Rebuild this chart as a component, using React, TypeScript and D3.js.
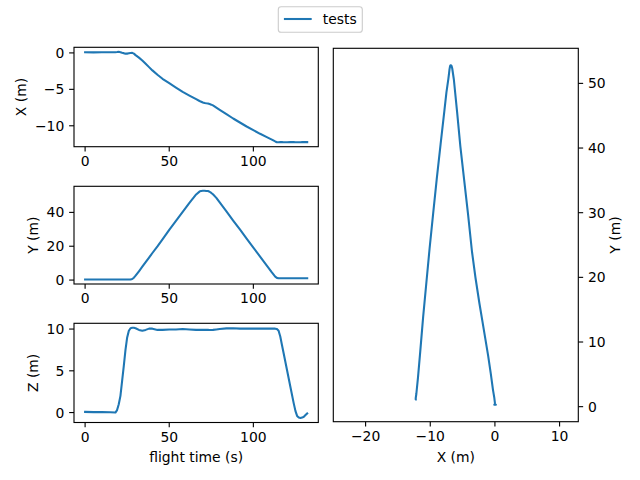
import React from "react";
import * as d3 from "d3";

const T = [0, 5, 10, 15, 18, 19, 20, 21, 22, 23, 24, 25, 26, 27, 28, 29, 30, 32, 34, 36, 38, 40, 43, 46, 50, 54, 58, 62, 66, 68, 69, 70, 71, 72, 73, 74, 75, 76, 78, 80, 84, 88, 92, 96, 100, 104, 108, 111, 113, 114, 115, 116, 117, 118, 120, 122, 124, 125, 126, 127, 128, 129, 130, 131, 132];

const XS = [0.08, 0.07, 0.08, 0.09, 0.1,
  0.12, 0.15, 0.1, 0.03, -0.03,
  -0.1, -0.1, -0.06, -0.02, 0.0,
  -0.1, -0.3, -0.65, -1.05, -1.5,
  -1.95, -2.4, -3.0, -3.55, -4.15,
  -4.75, -5.35, -5.85, -6.35, -6.6,
  -6.7, -6.8, -6.88, -6.92, -6.95,
  -7.02, -7.1, -7.2, -7.5, -7.8,
  -8.4, -9.0, -9.55, -10.1, -10.6,
  -11.1, -11.55, -11.9, -12.15, -12.25,
  -12.25, -12.24, -12.24, -12.25, -12.25,
  -12.24, -12.24, -12.25, -12.25, -12.25,
  -12.25, -12.24, -12.24, -12.24, -12.24];

const YS = [0.3, 0.3, 0.3, 0.3, 0.3,
  0.3, 0.3, 0.3, 0.3, 0.3,
  0.3, 0.3, 0.3, 0.3, 0.6,
  1.4, 2.6, 5.2, 7.9, 10.6,
  13.3, 16.0, 19.9, 24.0, 29.7,
  35.0, 40.3, 45.6, 50.6, 52.3,
  52.7, 52.8, 52.8, 52.7, 52.6,
  52.2, 51.5, 50.7, 48.6, 45.9,
  40.6, 35.2, 29.9, 24.5, 19.2,
  13.9, 8.5, 4.5, 2.0, 1.3,
  1.1, 1.1, 1.1, 1.1, 1.1,
  1.1, 1.1, 1.1, 1.1, 1.1,
  1.1, 1.1, 1.1, 1.1, 1.1];

const ZS = [0.08, 0.05, 0.06, 0.03, 0.0,
  0.3, 1.0, 2.0, 3.8, 5.6,
  7.5, 9.0, 9.8, 10.1, 10.15,
  10.15, 10.1, 9.9, 9.8, 9.9,
  10.05, 10.05, 9.9, 9.9, 9.95,
  9.95, 10.0, 9.95, 9.9, 9.9,
  9.9, 9.9, 9.9, 9.9, 9.9,
  9.88, 9.88, 9.9, 9.95, 10.0,
  10.08, 10.1, 10.05, 10.05, 10.05,
  10.05, 10.05, 10.05, 10.05, 10.0,
  9.8, 9.1, 8.1, 7.1, 5.1,
  3.1, 1.1, 0.2, -0.4, -0.6,
  -0.65, -0.6, -0.5, -0.3, -0.1];

const TIME_TICKS = [0, 50, 100];
const X_TICKS = [-10, -5, 0];
const Y_TICKS = [0, 20, 40];
const Z_TICKS = [0, 5, 10];
const MAP_X_TICKS = [-20, -10, 0, 10];
const MAP_Y_TICKS = [0, 10, 20, 30, 40, 50];

const SERIES_NAME = "tests";
const COLOR = "#1f77b4";
const FONT = "'DejaVu Sans', sans-serif";
const FS = 13.9;
const TICK = 4.86;

const fmt = (v: number) => (v < 0 ? "\u2212" + Math.abs(v) : String(v));

function padded(vals: number[]): [number, number] {
  const [a, b] = d3.extent(vals) as [number, number];
  const p = (b - a) * 0.05;
  return [a - p, b + p];
}

const LEFT = { x0: 74, x1: 318.3 };
const PANELS = [
  { y0: 47.3, y1: 146.7, vals: XS, ticks: X_TICKS, label: "X (m)", lx: 26 },
  { y0: 186.3, y1: 284, vals: YS, ticks: Y_TICKS, label: "Y (m)", lx: 37.7 },
  { y0: 323.3, y1: 422.5, vals: ZS, ticks: Z_TICKS, label: "Z (m)", lx: 37.7 },
];
const RIGHT = { x0: 333.3, x1: 578.3, y0: 48.3, y1: 421.7 };

export default function App() {
  const tx = d3.scaleLinear().domain(padded(T)).range([LEFT.x0, LEFT.x1]);

  const panels = PANELS.map((p, i) => {
    const ys = d3.scaleLinear().domain(padded(p.vals)).range([p.y1, p.y0]);
    const line = d3
      .line<number>()
      .x((_, j) => tx(T[j]))
      .y((v) => ys(v));
    const isBottom = i === PANELS.length - 1;
    return (
      <g key={i}>
        <defs>
          <clipPath id={"clip" + i}>
            <rect x={LEFT.x0} y={p.y0} width={LEFT.x1 - LEFT.x0} height={p.y1 - p.y0} />
          </clipPath>
        </defs>
        <path d={line(p.vals) || ""} fill="none" stroke={COLOR} strokeWidth={2.08} strokeLinejoin="round" strokeLinecap="square" clipPath={`url(#clip${i})`} />
        <rect x={LEFT.x0} y={p.y0} width={LEFT.x1 - LEFT.x0} height={p.y1 - p.y0} fill="none" stroke="#000" strokeWidth={1.11} />
        {TIME_TICKS.map((t) => (
          <g key={"t" + t}>
            <line x1={tx(t)} x2={tx(t)} y1={p.y1} y2={p.y1 + TICK} stroke="#000" strokeWidth={1.11} />
            <text x={tx(t)} y={p.y1 + 19.3} textAnchor="middle" fontSize={FS} fontFamily={FONT}>
              {fmt(t)}
            </text>
          </g>
        ))}
        {p.ticks.map((v) => (
          <g key={"y" + v}>
            <line x1={LEFT.x0 - TICK} x2={LEFT.x0} y1={ys(v)} y2={ys(v)} stroke="#000" strokeWidth={1.11} />
            <text x={LEFT.x0 - 9.72} y={ys(v)} dy="0.36em" textAnchor="end" fontSize={FS} fontFamily={FONT}>
              {fmt(v)}
            </text>
          </g>
        ))}
        <text
          transform={`translate(${p.lx},${(p.y0 + p.y1) / 2}) rotate(-90)`}
          textAnchor="middle"
          fontSize={FS}
          fontFamily={FONT}
        >
          {p.label}
        </text>
        {isBottom && (
          <text x={(LEFT.x0 + LEFT.x1) / 2} y={p.y1 + 39.5} textAnchor="middle" fontSize={FS} fontFamily={FONT}>
            flight time (s)
          </text>
        )}
      </g>
    );
  });

  // right panel: equal aspect
  const yDom = padded(YS);
  const k = (RIGHT.y1 - RIGHT.y0) / (yDom[1] - yDom[0]);
  const [xa, xb] = d3.extent(XS) as [number, number];
  const xc = (xa + xb) / 2;
  const half = (RIGHT.x1 - RIGHT.x0) / (2 * k);
  const mx = d3.scaleLinear().domain([xc - half, xc + half]).range([RIGHT.x0, RIGHT.x1]);
  const my = d3.scaleLinear().domain(yDom).range([RIGHT.y1, RIGHT.y0]);
  const mapLine = d3
    .line<number>()
    .x((v) => mx(v))
    .y((_, j) => my(YS[j]));

  return (
    <svg width={640} height={480} style={{ position: "absolute", left: 0, top: 0, background: "#fff" }}>
      <rect x={0} y={0} width={640} height={480} fill="#fff" />
      {panels}
      <g>
        <path d={mapLine(XS) || ""} fill="none" stroke={COLOR} strokeWidth={2.08} strokeLinejoin="round" strokeLinecap="square" />
        <rect x={RIGHT.x0} y={RIGHT.y0} width={RIGHT.x1 - RIGHT.x0} height={RIGHT.y1 - RIGHT.y0} fill="none" stroke="#000" strokeWidth={1.11} />
        {MAP_X_TICKS.map((v) => (
          <g key={"mx" + v}>
            <line x1={mx(v)} x2={mx(v)} y1={RIGHT.y1} y2={RIGHT.y1 + TICK} stroke="#000" strokeWidth={1.11} />
            <text x={mx(v)} y={RIGHT.y1 + 19.3} textAnchor="middle" fontSize={FS} fontFamily={FONT}>
              {fmt(v)}
            </text>
          </g>
        ))}
        {MAP_Y_TICKS.map((v) => (
          <g key={"my" + v}>
            <line x1={RIGHT.x1} x2={RIGHT.x1 + TICK} y1={my(v)} y2={my(v)} stroke="#000" strokeWidth={1.11} />
            <text x={RIGHT.x1 + 9.72} y={my(v)} dy="0.36em" textAnchor="start" fontSize={FS} fontFamily={FONT}>
              {fmt(v)}
            </text>
          </g>
        ))}
        <text x={(RIGHT.x0 + RIGHT.x1) / 2} y={RIGHT.y1 + 39.8} textAnchor="middle" fontSize={FS} fontFamily={FONT}>
          X (m)
        </text>
        <text
          transform={`translate(620,${(RIGHT.y0 + RIGHT.y1) / 2}) rotate(-90)`}
          textAnchor="middle"
          fontSize={FS}
          fontFamily={FONT}
        >
          Y (m)
        </text>
      </g>
      <g>
        <rect x={278.3} y={6.7} width={84} height={25.6} rx={2.8} fill="#fff" fillOpacity={0.8} stroke="#cccccc" strokeWidth={1.11} />
        <line x1={283.9} x2={311.7} y1={19} y2={19} stroke={COLOR} strokeWidth={2.08} />
        <text x={322.8} y={24} fontSize={FS} fontFamily={FONT}>
          {SERIES_NAME}
        </text>
      </g>
    </svg>
  );
}
